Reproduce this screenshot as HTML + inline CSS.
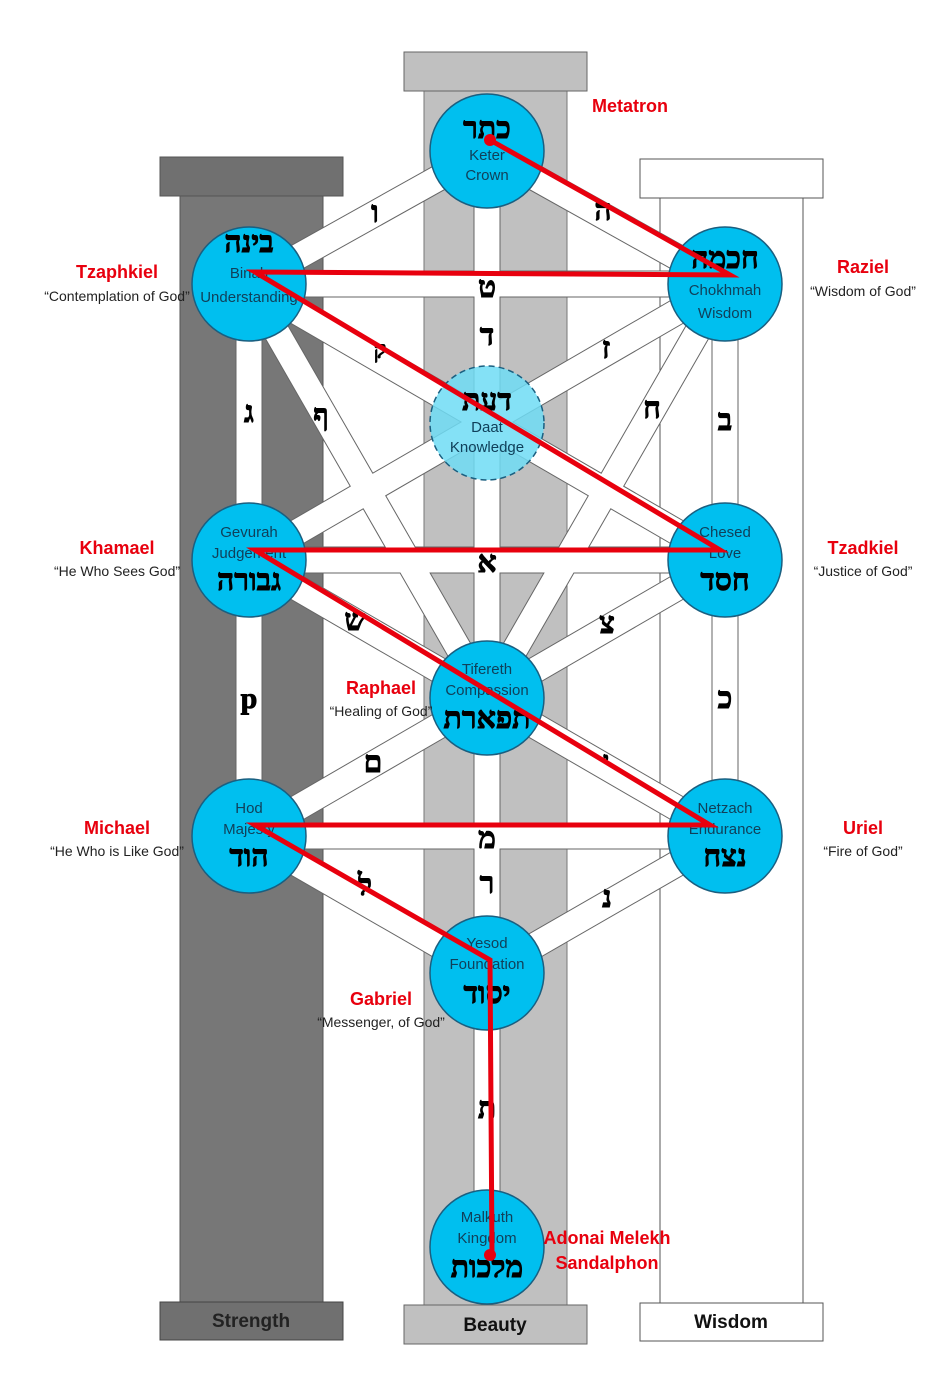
<!DOCTYPE html>
<html><head><meta charset="utf-8"><style>
html,body{margin:0;padding:0;background:#fff}
svg{display:block}
text{font-family:"Liberation Sans",sans-serif}
.h{font-family:"Liberation Serif","DejaVu Serif",serif;font-weight:bold;fill:#000;stroke:#000;stroke-width:0.9}
</style></head><body>
<svg width="952" height="1386" viewBox="0 0 952 1386" xmlns="http://www.w3.org/2000/svg">
<!-- pillars -->
<rect x="180" y="196" width="143" height="1107" fill="#777" stroke="#555"/>
<rect x="160" y="157" width="183" height="39" fill="#707070" stroke="#555"/>
<rect x="160" y="1302" width="183" height="38" fill="#707070" stroke="#444"/>
<text x="251" y="1327" font-size="19" font-weight="bold" text-anchor="middle" fill="#222">Strength</text>
<rect x="424" y="91" width="143" height="1214" fill="#c0c0c0" stroke="#777"/>
<rect x="404" y="52" width="183" height="39" fill="#c0c0c0" stroke="#666"/>
<rect x="404" y="1305" width="183" height="39" fill="#c0c0c0" stroke="#666"/>
<text x="495" y="1331" font-size="19" font-weight="bold" text-anchor="middle" fill="#111">Beauty</text>
<rect x="660" y="198" width="143" height="1105" fill="#fff" stroke="#555"/>
<rect x="640" y="159" width="183" height="39" fill="#fff" stroke="#555"/>
<rect x="640" y="1303" width="183" height="38" fill="#fff" stroke="#555"/>
<text x="731" y="1328" font-size="19" font-weight="bold" text-anchor="middle" fill="#111">Wisdom</text>
<!-- paths -->
<g stroke-linecap="butt">
<g stroke="#666" stroke-width="27">
<line x1="487" y1="151" x2="487" y2="1247"/>
<line x1="249" y1="284" x2="249" y2="836"/>
<line x1="725" y1="284" x2="725" y2="836"/>
<line x1="487" y1="151" x2="249" y2="284"/>
<line x1="487" y1="151" x2="725" y2="284"/>
<line x1="249" y1="284" x2="725" y2="284"/>
<line x1="249" y1="560" x2="725" y2="560"/>
<line x1="249" y1="836" x2="725" y2="836"/>
<line x1="249" y1="284" x2="725" y2="560"/>
<line x1="725" y1="284" x2="249" y2="560"/>
<line x1="249" y1="284" x2="487" y2="698"/>
<line x1="725" y1="284" x2="487" y2="698"/>
<line x1="249" y1="560" x2="487" y2="698"/>
<line x1="725" y1="560" x2="487" y2="698"/>
<line x1="249" y1="836" x2="487" y2="698"/>
<line x1="725" y1="836" x2="487" y2="698"/>
<line x1="249" y1="836" x2="487" y2="973"/>
<line x1="725" y1="836" x2="487" y2="973"/>
</g>
<g stroke="#fff" stroke-width="25">
<line x1="487" y1="151" x2="487" y2="1247"/>
<line x1="249" y1="284" x2="249" y2="836"/>
<line x1="725" y1="284" x2="725" y2="836"/>
<line x1="487" y1="151" x2="249" y2="284"/>
<line x1="487" y1="151" x2="725" y2="284"/>
<line x1="249" y1="284" x2="725" y2="284"/>
<line x1="249" y1="560" x2="725" y2="560"/>
<line x1="249" y1="836" x2="725" y2="836"/>
<line x1="249" y1="284" x2="725" y2="560"/>
<line x1="725" y1="284" x2="249" y2="560"/>
<line x1="249" y1="284" x2="487" y2="698"/>
<line x1="725" y1="284" x2="487" y2="698"/>
<line x1="249" y1="560" x2="487" y2="698"/>
<line x1="725" y1="560" x2="487" y2="698"/>
<line x1="249" y1="836" x2="487" y2="698"/>
<line x1="725" y1="836" x2="487" y2="698"/>
<line x1="249" y1="836" x2="487" y2="973"/>
<line x1="725" y1="836" x2="487" y2="973"/>
</g>
</g>
<!-- path letters -->
<g font-size="30" text-anchor="middle">
<text x="375" y="222" class="h">ו</text>
<text x="603" y="220" class="h">ה</text>
<text x="487" y="297" class="h">ט</text>
<text x="487" y="345" class="h">ד</text>
<text x="380" y="358" class="h" font-size="24">ק</text>
<text x="606" y="358" class="h">ז</text>
<text x="249" y="422" class="h">ג</text>
<text x="321" y="425" class="h">ף</text>
<text x="652" y="418" class="h">ח</text>
<text x="725" y="430" class="h">ב</text>
<text x="487" y="572" class="h">א</text>
<text x="355" y="630" class="h">ש</text>
<text x="607" y="633" class="h">צ</text>
<text x="249" y="708" class="h" font-family="Liberation Sans">p</text>
<text x="725" y="708" class="h">כ</text>
<text x="373" y="772" class="h">ם</text>
<text x="606" y="767" class="h" font-size="22">י</text>
<text x="487" y="848" class="h">מ</text>
<text x="487" y="893" class="h">ר</text>
<text x="365" y="895" class="h">ל</text>
<text x="607" y="907" class="h">נ</text>
<text x="487" y="1118" class="h">ת</text>
</g>
<!-- sephirot -->
<g stroke="#1a5f80" stroke-width="1.5" fill="#00bfef">
<circle cx="487" cy="151" r="57"/>
<circle cx="249" cy="284" r="57"/>
<circle cx="725" cy="284" r="57"/>
<circle cx="249" cy="560" r="57"/>
<circle cx="725" cy="560" r="57"/>
<circle cx="487" cy="698" r="57"/>
<circle cx="249" cy="836" r="57"/>
<circle cx="725" cy="836" r="57"/>
<circle cx="487" cy="973" r="57"/>
<circle cx="487" cy="1247" r="57"/>
<circle cx="487" cy="423" r="57" fill="#6fdcf5" fill-opacity="0.85" stroke-dasharray="6,4"/>
</g>
<g fill="#10405a" font-size="15" text-anchor="middle">
<text x="487" y="160">Keter</text><text x="487" y="180">Crown</text>
<text x="249" y="278">Binah</text><text x="249" y="302">Understanding</text>
<text x="725" y="295">Chokhmah</text><text x="725" y="318">Wisdom</text>
<text x="487" y="432">Daat</text><text x="487" y="452">Knowledge</text>
<text x="249" y="537">Gevurah</text><text x="249" y="558">Judgement</text>
<text x="725" y="537">Chesed</text><text x="725" y="558">Love</text>
<text x="487" y="674">Tifereth</text><text x="487" y="695">Compassion</text>
<text x="249" y="813">Hod</text><text x="249" y="834">Majesty</text>
<text x="725" y="813">Netzach</text><text x="725" y="834">Endurance</text>
<text x="487" y="948">Yesod</text><text x="487" y="969">Foundation</text>
<text x="487" y="1222">Malkuth</text><text x="487" y="1243">Kingdom</text>
</g>
<g font-size="30" text-anchor="middle">
<text x="487" y="138" class="h">כתר</text>
<text x="249" y="252" class="h">בינה</text>
<text x="725" y="268" class="h">חכמה</text>
<text x="487" y="410" class="h">דעת</text>
<text x="249" y="590" class="h">גבורה</text>
<text x="725" y="590" class="h">חסד</text>
<text x="487" y="728" class="h">תפארת</text>
<text x="249" y="866" class="h">הוד</text>
<text x="725" y="866" class="h">נצח</text>
<text x="487" y="1003" class="h">יסוד</text>
<text x="487" y="1277" class="h">מלכות</text>
</g>
<!-- lightning -->
<polyline points="490,140 730,275 255,272 720,550 255,550 710,825 255,825 490,960 492,1255" fill="none" stroke="#e8000e" stroke-width="5" stroke-linejoin="miter"/>
<circle cx="490" cy="140" r="6" fill="#e8000e"/>
<circle cx="490" cy="1255" r="6" fill="#e8000e"/>
<!-- angels -->
<g fill="#e8000e" font-size="18" font-weight="bold" text-anchor="middle">
<text x="630" y="112">Metatron</text>
<text x="117" y="278">Tzaphkiel</text>
<text x="863" y="273">Raziel</text>
<text x="117" y="554">Khamael</text>
<text x="863" y="554">Tzadkiel</text>
<text x="381" y="694">Raphael</text>
<text x="117" y="834">Michael</text>
<text x="863" y="834">Uriel</text>
<text x="381" y="1005">Gabriel</text>
<text x="607" y="1244">Adonai Melekh</text>
<text x="607" y="1269">Sandalphon</text>
</g>
<g fill="#222" font-size="14" text-anchor="middle">
<text x="117" y="301">“Contemplation of God”</text>
<text x="863" y="296">“Wisdom of God”</text>
<text x="117" y="576">“He Who Sees God”</text>
<text x="863" y="576">“Justice of God”</text>
<text x="381" y="716">“Healing of God”</text>
<text x="117" y="856">“He Who is Like God”</text>
<text x="863" y="856">“Fire of God”</text>
<text x="381" y="1027">“Messenger, of God”</text>
</g>
</svg>
</body></html>
